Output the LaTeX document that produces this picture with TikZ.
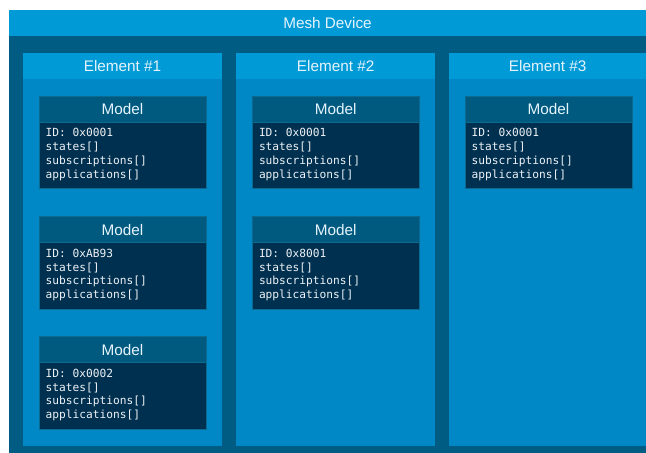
\documentclass[tikz,border=0pt]{standalone}
\usepackage{fontspec}
\setmainfont{Liberation Sans}
\setmonofont{DejaVu Sans Mono}
\definecolor{titlebg}{HTML}{009BD7}
\definecolor{darkbg}{HTML}{005C82}
\definecolor{elembody}{HTML}{0087C6}
\definecolor{modelhead}{HTML}{005A80}
\definecolor{modelbody}{HTML}{00304F}
\definecolor{modeledge}{HTML}{0A6A92}
\definecolor{headtext}{HTML}{E6F4FC}
\definecolor{monotext}{HTML}{EEF2F6}
\tikzset{
  panel/.style={anchor=north west, inner sep=0pt, outer sep=0pt},
  headfont/.style={font=\fontsize{15.3}{18}\selectfont, text=headtext},
  devbox/.style={panel, fill=darkbg, minimum width=637pt, minimum height=443pt},
  devtitle/.style={panel, headfont, fill=titlebg, minimum width=637pt, minimum height=26pt},
  elbody/.style={panel, fill=elembody, minimum width=#1, minimum height=392.7pt},
  elhead/.style={panel, headfont, fill=titlebg, minimum width=#1, minimum height=26pt},
  mhead/.style={panel, headfont, fill=modelhead, draw=modeledge, line width=0.6pt, minimum width=167pt, minimum height=26pt},
  mbody/.style={panel, fill=modelbody, draw=modeledge, line width=0.6pt, minimum width=167pt, minimum height=66.3pt},
  mtext/.style={panel, align=left, text=monotext, font=\ttfamily\fontsize{11.2}{13.8}\selectfont}
}
\newcommand\mdlbox[4]{%
  \node[mbody] (#1b) at (#2,#3+26) {};
  \node[mhead] (#1h) at (#2,#3) {Model};
  \node[mtext] (#1t) at (#2+6.7,#3+32.3) {ID: #4\\states[]\\subscriptions[]\\applications[]};
}
\begin{document}
\begin{tikzpicture}[x=1pt,y=-1pt]
\useasboundingbox (0,0) rectangle (646,453);
\fill[white] (0,0) rectangle (646,453);
\node[devbox] (dev) at (9,10) {};
\node[devtitle] (devt) at (9,10) {Mesh Device};
% elements
\node[elbody=198.4pt] (e1) at (23.3,53.3) {};
\node[elhead=198.4pt] (e1h) at (23.3,53.3) {Element \#1};
\node[elbody=198.7pt] (e2) at (236.3,53.3) {};
\node[elhead=198.7pt] (e2h) at (236.3,53.3) {Element \#2};
\node[elbody=196.7pt] (e3) at (449.3,53.3) {};
\node[elhead=196.7pt] (e3h) at (449.3,53.3) {Element \#3};
% models
\mdlbox{m11}{39}{96}{0x0001}
\mdlbox{m12}{39}{216.7}{0xAB93}
\mdlbox{m13}{39}{336.7}{0x0002}
\mdlbox{m21}{252.3}{96}{0x0001}
\mdlbox{m22}{252.3}{216.7}{0x8001}
\mdlbox{m31}{465}{96}{0x0001}
\end{tikzpicture}
\end{document}
